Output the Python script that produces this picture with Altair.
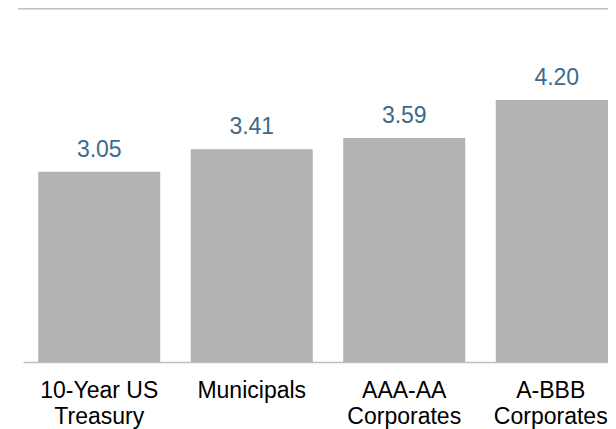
import altair as alt
import pandas as pd

categories = ["10-Year US|Treasury", "Municipals", "AAA-AA|Corporates", "A-BBB|Corporates"]
yields = [3.05, 3.41, 3.59, 4.20]

df = pd.DataFrame({"category": categories, "value": yields})

FONT = "Arial, Liberation Sans, sans-serif"

x_enc = alt.X(
    "category:N",
    sort=categories,
    scale=alt.Scale(range=[15, 625], paddingInner=0.2, paddingOuter=0.1),
    axis=alt.Axis(
        title=None,
        labelAngle=0,
        ticks=False,
        labelPadding=17.5,
        labelFontSize=23,
        labelFont=FONT,
        labelColor="#000000",
        labelLineHeight=25.5,
        labelExpr="split(datum.label, '|')",
        labelOffset={
            "condition": {"test": "datum.value == 'A-BBB|Corporates'", "value": -6},
            "value": 0,
        },
        domainColor="#bfbfbf",
        domainWidth=1.5,
        grid=False,
    ),
)
y_enc = alt.Y("value:Q", scale=alt.Scale(domain=[0, 5.675], nice=False), axis=None)

base = alt.Chart(df).encode(x=x_enc, y=y_enc)

bars = base.mark_bar(color="#b2b2b2", clip=True)
labels = base.mark_text(
    dy=-15, baseline="alphabetic", fontSize=23, font=FONT, color="#3b6a8b"
).encode(text=alt.Text("value:Q", format=".2f"))

top_rule = alt.Chart(pd.DataFrame({"a": [0]})).mark_rule(
    color="#bfbfbf", strokeWidth=1.5
).encode(x=alt.value(10), x2=alt.value(600), y=alt.value(0.75))

chart = (
    alt.layer(bars, labels, top_rule)
    .properties(
        width=600,
        height=354,
        autosize=alt.AutoSizeParams(type="none"),
        padding={"left": 0, "top": 0, "right": 0, "bottom": 67},
    )
    .configure_view(stroke=None)
)

chart.save("out.html", embed_options={"renderer": "svg", "actions": False})
